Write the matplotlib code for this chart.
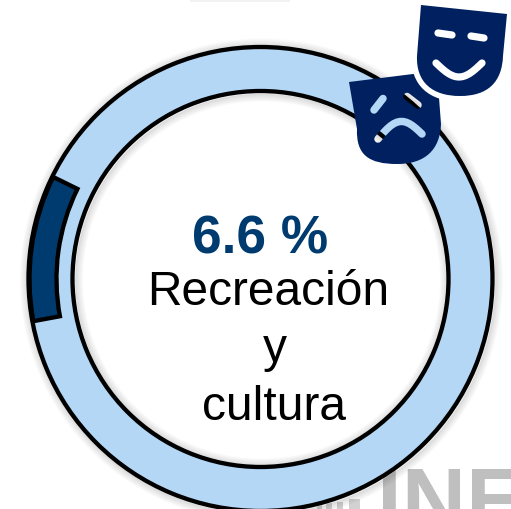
import numpy as np
import matplotlib
matplotlib.use("Agg")
import matplotlib.pyplot as plt
from matplotlib.path import Path
from matplotlib.patches import PathPatch, Circle, Rectangle

plt.rcParams['font.family'] = ['Liberation Sans', 'DejaVu Sans']

W, H = 511, 510

# porcion visible del arco oscuro (el arco dibujado es mayor que la etiqueta)
arc_share = [10.2, 89.8]
value_label = "6.6 %"
name_lines = ["Recreación", "y", "cultura"]

LIGHT = "#B4D7F5"
DARK = "#003B70"
NAVY = "#002060"
GREY = "#BFBFBF"


def py(y):
    return H - y


def stroke_outline(points, w, n_cap=8):
    # contorno de una linea gruesa con puntas redondas, en sentido antihorario
    pts = np.array(points, dtype=float)
    d = np.gradient(pts, axis=0)
    d = d / np.linalg.norm(d, axis=1, keepdims=True)
    nrm = np.column_stack([-d[:, 1], d[:, 0]])
    left = pts + nrm * w / 2
    right = pts - nrm * w / 2
    a0 = np.arctan2(d[-1, 1], d[-1, 0])
    a1 = np.arctan2(d[0, 1], d[0, 0])
    t = np.linspace(np.pi / 2, -np.pi / 2, n_cap)
    cap_end = pts[-1] + w / 2 * np.column_stack([np.cos(a0 + t), np.sin(a0 + t)])
    cap_start = pts[0] - w / 2 * np.column_stack([np.cos(a1 + t), np.sin(a1 + t)])
    out = np.vstack([left, cap_end[1:-1], right[::-1], cap_start[1:-1]])
    area = 0.5 * np.sum(out[:, 0] * np.roll(out[:, 1], -1) - np.roll(out[:, 0], -1) * out[:, 1])
    if area < 0:
        out = out[::-1]
    return out


def mask_body(tl, tr, rs, bottom, ls):
    # cara de la mascara: borde recto arriba y barbilla curva
    verts = [tl, tr, rs,
             (rs[0] - 1, rs[1] + 26), (bottom[0] + 28, bottom[1]), bottom,
             (bottom[0] - 28, bottom[1]), (ls[0] - 1, ls[1] + 26), ls,
             tl]
    codes = [Path.MOVETO, Path.LINETO, Path.LINETO,
             Path.CURVE4, Path.CURVE4, Path.CURVE4,
             Path.CURVE4, Path.CURVE4, Path.CURVE4,
             Path.LINETO]
    return [(x, py(y)) for x, y in verts], codes


def mask_path(tl, tr, rs, bottom, ls, holes, hole_w=7.5):
    verts, codes = mask_body(tl, tr, rs, bottom, ls)
    verts = list(verts)
    codes = list(codes)
    for hole in holes:
        out = stroke_outline([(x, py(y)) for x, y in hole], hole_w)
        verts += [tuple(p) for p in out] + [tuple(out[0])]
        codes += [Path.MOVETO] + [Path.LINETO] * (len(out) - 1) + [Path.CLOSEPOLY]
    return Path(verts, codes)


fig = plt.figure(figsize=(W / 100, H / 100), dpi=100)
ax = fig.add_axes([0, 0, 1, 1])

cx, cy, r_out, r_in = 260.5, py(280), 232, 188

# logo gris de fondo, cortado por el borde inferior
ax.text(377, py(530), "INE", fontsize=64, fontweight='bold', color=GREY, ha='left', va='baseline', zorder=0)
for x0, x1, y0 in [(317, 322, 505), (326, 332, 504), (337, 343, 503), (349, 360, 500)]:
    ax.add_patch(Rectangle((x0, 0), x1 - x0, py(y0), color=GREY, alpha=0.7, lw=0, zorder=0))
ax.add_patch(Rectangle((190, py(3)), 100, 3, color="#F2F2F2", lw=0, zorder=0))

# sombra difusa alrededor del aro
for i in range(1, 9):
    alpha = 0.10 * (1 - i / 9)
    ax.add_patch(Circle((cx + 1, cy - 1), r_out + 1 + i, fill=False, ec="black", lw=1.2, alpha=alpha, zorder=1))
    ax.add_patch(Circle((cx + 1, cy - 1), r_in - 1 - i, fill=False, ec="black", lw=1.2, alpha=alpha, zorder=1))

edge = dict(edgecolor="black", linewidth=3.1)
ax.pie([1], radius=r_out, center=(cx, cy), colors=[LIGHT],
       wedgeprops=dict(width=r_out - r_in, **edge), frame=True)
wedges, _ = ax.pie(arc_share, radius=r_out - 1, center=(cx, cy), startangle=153.8, colors=[DARK, "none"],
                   wedgeprops=dict(width=r_out - 1 - 204, **edge), frame=True)
wedges[1].set_visible(False)

ax.text(260.5, py(254), value_label, fontsize=38.3, fontweight='bold', color=DARK, ha='center', va='baseline', zorder=6)
ax.text(268, py(305), name_lines[0], fontsize=34.5, color="black", ha='center', va='baseline', zorder=6)
ax.text(275, py(362), name_lines[1], fontsize=34.5, color="black", ha='center', va='baseline', zorder=6)
ax.text(274.5, py(420), name_lines[2], fontsize=34.5, color="black", ha='center', va='baseline', zorder=6)

# mascara triste, con ojos y boca calados
t = np.linspace(0, 1, 15)
frown = np.column_stack([378 + 44 * t, 140 - 5 * t - 15 * np.sin(np.pi * t)])
sad = mask_path((349, 83), (437, 72), (441, 125), (397, 165), (357, 130),
                [[(383, 99.5), (374, 111)], [(407, 97.5), (418, 106)], frown])
ax.add_patch(PathPatch(sad, fc=NAVY, ec="none", zorder=7))

# mascara alegre con halo blanco
v, c = mask_body((421, 6), (507, 15), (503, 57), (460, 97), (417, 57))
ax.add_patch(PathPatch(Path(v, c), fc=NAVY, ec="white", lw=8, zorder=8, joinstyle='round'))
ax.add_patch(PathPatch(Path(v, c), fc=NAVY, ec="none", zorder=9))
s = np.linspace(0, 1, 20)
smile_x = 436 + 46 * s
smile_y = 64 + 14 * np.sin(np.pi * s)
ax.plot(smile_x, py(smile_y), color="white", lw=5.2, solid_capstyle='round', zorder=10)
ax.plot([438, 452], [py(34), py(36)], color="white", lw=5.2, solid_capstyle='round', zorder=10)
ax.plot([471, 484], [py(37), py(39)], color="white", lw=5.2, solid_capstyle='round', zorder=10)

ax.set_xlim(0, W)
ax.set_ylim(0, H)
ax.set_aspect('auto')
ax.axis('off')

fig.savefig("out.png", dpi=100, facecolor="white")
